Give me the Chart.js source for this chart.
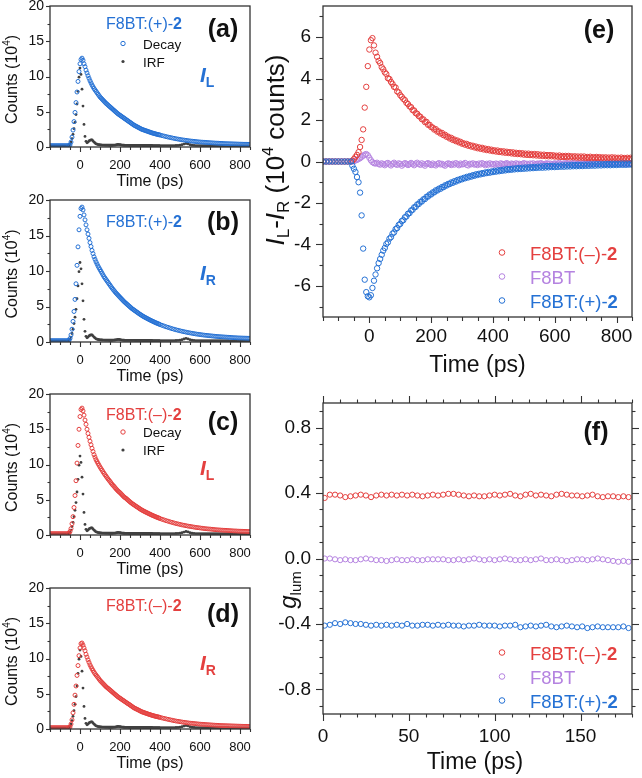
<!DOCTYPE html>
<html><head><meta charset="utf-8">
<script src="https://cdn.jsdelivr.net/npm/chart.js@4.4.0/dist/chart.umd.min.js"></script>
<style>
html,body{margin:0;padding:0;background:#fff;}
body{width:642px;height:778px;position:relative;overflow:hidden;}
canvas{position:absolute;}
</style></head><body>
<script>
// ---------- DATA ----------
// time axis (ps) for panels (a)-(d)
const T = [-150,-140,-130,-120,-110,-100,-90,-80,-70,-60,
-55,-50,-45,-40,-35,-30,-25,-20,-15,-10,
-5,0,5,10,15,20,25,30,35,40,
45,50,55,60,65,70,75,80,85,90,
95,100,105,110,115,120,125,130,135,140,
145,150,155,160,165,170,175,180,185,190,
195,200,205,210,215,220,225,230,235,240,
245,250,255,260,265,270,275,280,285,290,
295,300,305,310,315,320,325,330,335,340,
345,350,355,360,365,370,375,380,385,390,
395,400,410,420,430,440,450,460,470,480,
490,500,510,520,530,540,550,560,570,580,
590,600,610,620,630,640,650,660,670,680,
690,700,710,720,730,740,750,760,770,780,
790,800,810,820,830,840,850];
// (a) F8BT:(+)-2, I_L  (10^4 counts)
const A_IL_PLUS = [0.2,0.2,0.2,0.2,0.2,0.2,0.2,0.2,0.2,0.2,
0.2,0.3,0.7,1.4,2.4,3.6,4.9,6.3,7.8,9.3,
10.7,11.8,12.4,12.6,12.3,11.8,11.4,10.9,10.5,10.1,
9.75,9.4,9.1,8.8,8.55,8.3,8.1,7.9,7.7,7.5,
7.3,7.1,6.95,6.8,6.65,6.5,6.35,6.2,6.08,5.95,
5.82,5.7,5.57,5.45,5.32,5.2,5.07,4.95,4.82,4.7,
4.6,4.5,4.4,4.3,4.2,4.1,4.0,3.9,3.8,3.7,
3.6,3.5,3.4,3.3,3.2,3.1,3.02,2.95,2.87,2.8,
2.72,2.65,2.57,2.5,2.45,2.4,2.35,2.3,2.25,2.2,
2.15,2.1,2.05,2.0,1.96,1.92,1.88,1.84,1.8,1.77,
1.73,1.7,1.62,1.55,1.48,1.41,1.35,1.29,1.23,1.17,
1.12,1.07,1.02,0.98,0.94,0.9,0.86,0.83,0.8,0.77,
0.74,0.71,0.69,0.67,0.65,0.63,0.61,0.59,0.57,0.55,
0.54,0.52,0.51,0.49,0.48,0.47,0.46,0.45,0.44,0.43,
0.42,0.41,0.4,0.39,0.39,0.38,0.37];
// (b) F8BT:(+)-2, I_R
const B_IR_PLUS = [0.2,0.2,0.2,0.2,0.2,0.2,0.2,0.2,0.2,0.2,
0.25,0.5,1.0,1.8,2.9,4.3,6.0,8.2,10.8,13.4,
15.8,17.7,18.8,19.0,18.6,17.9,17.2,16.5,15.8,15.2,
14.6,14.0,13.45,12.9,12.45,12.0,11.65,11.3,11.0,10.7,
10.45,10.2,9.95,9.7,9.45,9.2,9.0,8.8,8.6,8.4,
8.2,8.0,7.8,7.6,7.42,7.25,7.07,6.9,6.75,6.6,
6.45,6.3,6.15,6.0,5.85,5.7,5.57,5.45,5.32,5.2,
5.07,4.95,4.82,4.7,4.6,4.5,4.4,4.3,4.2,4.1,
4.0,3.9,3.81,3.72,3.63,3.55,3.47,3.4,3.32,3.25,
3.17,3.1,3.03,2.96,2.9,2.83,2.76,2.7,2.64,2.58,
2.52,2.46,2.35,2.25,2.15,2.06,1.97,1.88,1.8,1.72,
1.65,1.58,1.51,1.45,1.39,1.33,1.28,1.23,1.18,1.13,
1.09,1.05,1.01,0.97,0.94,0.91,0.88,0.85,0.82,0.79,
0.77,0.75,0.73,0.71,0.69,0.67,0.65,0.63,0.61,0.6,
0.58,0.57,0.56,0.55,0.54,0.53,0.52];
// (c) F8BT:(–)-2, I_L
const C_IL_MINUS = [0.2,0.2,0.2,0.2,0.2,0.2,0.2,0.2,0.2,0.2,
0.25,0.5,0.9,1.6,2.6,3.9,5.6,7.7,10.2,12.7,
15.0,16.8,17.8,18.0,17.6,17.0,16.3,15.7,15.0,14.4,
13.85,13.3,12.8,12.3,11.85,11.4,11.05,10.7,10.42,10.15,
9.9,9.65,9.42,9.2,8.97,8.75,8.55,8.35,8.15,7.95,
7.77,7.6,7.4,7.2,7.05,6.9,6.72,6.55,6.4,6.25,
6.12,6.0,5.85,5.7,5.55,5.4,5.3,5.2,5.07,4.95,
4.82,4.7,4.58,4.47,4.37,4.28,4.18,4.08,3.99,3.9,
3.8,3.7,3.61,3.53,3.45,3.37,3.3,3.23,3.16,3.09,
3.02,2.95,2.88,2.81,2.75,2.69,2.63,2.57,2.51,2.45,
2.4,2.34,2.23,2.14,2.04,1.96,1.87,1.79,1.71,1.63,
1.57,1.5,1.43,1.38,1.32,1.26,1.22,1.17,1.12,1.07,
1.04,1.0,0.96,0.92,0.89,0.86,0.84,0.81,0.78,0.75,
0.73,0.71,0.69,0.67,0.66,0.64,0.62,0.6,0.58,0.57,
0.55,0.54,0.53,0.52,0.51,0.5,0.49];
// (d) F8BT:(–)-2, I_R
const D_IR_MINUS = [0.2,0.2,0.2,0.2,0.2,0.2,0.2,0.2,0.2,0.2,
0.2,0.3,0.7,1.3,2.3,3.5,4.8,6.1,7.6,9.0,
10.4,11.5,12.1,12.2,11.9,11.5,11.1,10.6,10.2,9.8,
9.45,9.1,8.82,8.55,8.3,8.05,7.85,7.65,7.47,7.3,
7.1,6.9,6.75,6.6,6.45,6.3,6.15,6.0,5.88,5.77,
5.65,5.53,5.41,5.29,5.16,5.04,4.92,4.8,4.68,4.56,
4.46,4.37,4.27,4.17,4.07,3.98,3.88,3.78,3.68,3.59,
3.5,3.4,3.3,3.2,3.1,3.0,2.93,2.86,2.79,2.72,
2.65,2.57,2.5,2.43,2.38,2.33,2.28,2.23,2.18,2.13,
2.08,2.04,1.99,1.94,1.9,1.86,1.82,1.78,1.75,1.72,
1.68,1.65,1.57,1.5,1.44,1.37,1.31,1.25,1.19,1.13,
1.09,1.04,0.99,0.95,0.91,0.87,0.83,0.81,0.78,0.75,
0.72,0.69,0.67,0.65,0.63,0.61,0.59,0.57,0.55,0.53,
0.52,0.5,0.49,0.48,0.47,0.46,0.45,0.44,0.43,0.42,
0.41,0.4,0.39,0.38,0.38,0.37,0.36];
// instrument response function (same in all four panels)
const IRF = [0.15,0.15,0.15,0.15,0.15,0.15,0.15,0.15,0.15,0.15,
0.2,0.4,0.7,1.2,1.8,2.6,3.5,4.6,6.1,7.9,
9.9,11.2,10.3,8.2,5.8,3.2,1.5,0.8,0.6,0.7,
0.85,0.95,1.0,1.0,0.85,0.7,0.57,0.45,0.4,0.35,
0.32,0.3,0.29,0.28,0.27,0.27,0.26,0.26,0.26,0.26,
0.25,0.25,0.25,0.25,0.26,0.27,0.28,0.3,0.33,0.36,
0.35,0.33,0.3,0.27,0.26,0.25,0.24,0.24,0.24,0.24,
0.23,0.23,0.23,0.23,0.23,0.23,0.22,0.22,0.22,0.22,
0.22,0.22,0.22,0.22,0.21,0.21,0.21,0.21,0.21,0.21,
0.21,0.21,0.21,0.21,0.2,0.2,0.2,0.2,0.2,0.2,
0.2,0.2,0.2,0.2,0.2,0.2,0.2,0.2,0.2,0.21,
0.23,0.26,0.32,0.42,0.5,0.43,0.32,0.25,0.22,0.2,
0.2,0.2,0.19,0.19,0.19,0.19,0.19,0.18,0.18,0.18,
0.18,0.18,0.18,0.18,0.18,0.18,0.17,0.17,0.17,0.17,
0.17,0.17,0.17,0.17,0.17,0.17,0.17];

// (e) time axis and I_L - I_R (10^4 counts)
const TE = [-150,-140,-130,-120,-110,-100,-90,-80,-70,-60,
-55,-50,-45,-40,-35,-30,-25,-20,-15,-10,
-5,0,5,10,15,20,25,30,35,40,
45,50,55,60,65,70,75,80,85,90,
95,100,105,110,115,120,125,130,135,140,
145,150,155,160,165,170,175,180,185,190,
195,200,205,210,215,220,225,230,235,240,
245,250,255,260,265,270,275,280,285,290,
295,300,305,310,315,320,325,330,335,340,
345,350,355,360,365,370,375,380,385,390,
395,400,405,410,415,420,425,430,435,440,
445,450,455,460,465,470,475,480,485,490,
495,500,505,510,515,520,525,530,535,540,
545,550,555,560,565,570,575,580,585,590,
595,600,605,610,615,620,625,630,635,640,
645,650,655,660,665,670,675,680,685,690,
695,700,705,710,715,720,725,730,735,740,
745,750,755,760,765,770,775,780,785,790,
795,800,805,810,815,820,825,830,835,840,
845,850];
const E_MINUS = [0,0,0,0,0,0,0,0,0,0,
0.03,0.12,0.22,0.32,0.45,0.7,1.04,1.55,2.6,3.6,
4.6,5.4,5.85,5.95,5.6,5.25,5.05,4.85,4.75,4.55,
4.45,4.3,4.22,4.02,3.98,3.84,3.74,3.6,3.57,3.38,
3.33,3.2,3.12,3.02,2.96,2.83,2.77,2.66,2.62,2.48,
2.46,2.33,2.3,2.19,2.16,2.04,2.03,1.9,1.91,1.77,
1.77,1.66,1.64,1.54,1.56,1.44,1.45,1.35,1.38,1.27,
1.29,1.19,1.2,1.11,1.14,1.04,1.06,0.98,1.01,0.92,
0.95,0.86,0.88,0.81,0.85,0.76,0.79,0.72,0.76,0.68,
0.72,0.64,0.68,0.61,0.66,0.58,0.62,0.55,0.6,0.53,
0.57,0.5,0.54,0.48,0.53,0.46,0.5,0.44,0.49,0.42,
0.47,0.41,0.45,0.39,0.44,0.37,0.42,0.36,0.41,0.35,
0.4,0.33,0.38,0.32,0.38,0.31,0.36,0.3,0.36,0.29,
0.35,0.28,0.33,0.27,0.33,0.26,0.31,0.25,0.31,0.25,
0.3,0.24,0.28,0.23,0.29,0.22,0.27,0.22,0.27,0.21,
0.27,0.2,0.25,0.2,0.25,0.19,0.24,0.18,0.24,0.18,
0.24,0.17,0.22,0.17,0.23,0.16,0.21,0.16,0.22,0.16,
0.21,0.15,0.2,0.15,0.2,0.14,0.19,0.14,0.2,0.14,
0.19,0.13,0.18,0.13,0.19,0.13,0.17,0.12,0.18,0.12,
0.18,0.12];
const E_NEAT = [0,0,0,0,0,0,0,0,0,0,
0,0.02,0.05,0.08,0.12,0.16,0.22,0.28,0.33,0.36,
0.3,0.18,0.06,-0.03,-0.08,-0.1,-0.06,-0.12,-0.15,-0.09,
-0.13,-0.18,-0.1,-0.07,-0.14,-0.19,-0.11,-0.06,-0.13,-0.16,
-0.09,-0.12,-0.2,-0.14,-0.08,-0.11,-0.17,-0.13,-0.07,-0.12,
-0.18,-0.1,-0.06,-0.12,-0.16,-0.09,-0.14,-0.2,-0.11,-0.08,
-0.13,-0.17,-0.1,-0.15,-0.19,-0.12,-0.08,-0.14,-0.11,-0.16,
-0.2,-0.13,-0.09,-0.12,-0.17,-0.11,-0.15,-0.08,-0.13,-0.18,
-0.1,-0.14,-0.12,-0.07,-0.16,-0.19,-0.11,-0.13,-0.09,-0.15,
-0.12,-0.17,-0.1,-0.14,-0.08,-0.13,-0.18,-0.11,-0.15,-0.09,
-0.14,-0.12,-0.16,-0.1,-0.13,-0.18,-0.09,-0.12,-0.15,-0.11,
-0.08,-0.14,-0.17,-0.1,-0.12,-0.15,-0.09,-0.13,-0.11,-0.16,
-0.12,-0.08,-0.14,-0.11,-0.17,-0.1,-0.13,-0.09,-0.15,-0.12,
-0.1,-0.14,-0.08,-0.12,-0.15,-0.11,-0.09,-0.13,-0.1,-0.14,
-0.12,-0.09,-0.13,-0.1,-0.07,-0.12,-0.14,-0.09,-0.11,-0.08,
-0.12,-0.1,-0.13,-0.07,-0.1,-0.12,-0.09,-0.11,-0.14,-0.08,
-0.1,-0.12,-0.08,-0.11,-0.09,-0.13,-0.1,-0.07,-0.11,-0.09,
-0.12,-0.08,-0.1,-0.13,-0.09,-0.11,-0.07,-0.1,-0.12,-0.09,
-0.11,-0.08,-0.1,-0.12,-0.09,-0.11,-0.08,-0.1,-0.12,-0.09,
-0.1,-0.11];
const E_PLUS = [0,0,0,0,0,0,0,0,0,0,
-0.2,-0.35,-0.5,-0.75,-1.0,-1.5,-2.6,-4.2,-5.7,-6.3,
-6.5,-6.55,-6.45,-6.1,-5.75,-5.45,-5.15,-4.9,-4.7,-4.5,
-4.3,-4.17,-3.98,-3.9,-3.72,-3.65,-3.48,-3.42,-3.26,-3.21,
-3.06,-3.01,-2.87,-2.83,-2.69,-2.65,-2.52,-2.49,-2.36,-2.33,
-2.21,-2.19,-2.07,-2.05,-1.94,-1.93,-1.82,-1.81,-1.7,-1.69,
-1.59,-1.59,-1.49,-1.49,-1.39,-1.4,-1.31,-1.32,-1.23,-1.24,
-1.15,-1.16,-1.08,-1.09,-1.01,-1.03,-0.95,-0.97,-0.89,-0.91,
-0.84,-0.86,-0.79,-0.81,-0.74,-0.77,-0.7,-0.73,-0.66,-0.69,
-0.62,-0.65,-0.59,-0.62,-0.56,-0.59,-0.53,-0.56,-0.5,-0.54,
-0.48,-0.51,-0.45,-0.49,-0.43,-0.47,-0.41,-0.45,-0.39,-0.43,
-0.37,-0.41,-0.36,-0.4,-0.34,-0.38,-0.33,-0.37,-0.31,-0.36,
-0.3,-0.35,-0.29,-0.34,-0.28,-0.33,-0.27,-0.32,-0.26,-0.31,
-0.25,-0.3,-0.24,-0.3,-0.23,-0.29,-0.22,-0.28,-0.22,-0.27,
-0.21,-0.27,-0.2,-0.26,-0.2,-0.25,-0.19,-0.25,-0.18,-0.24,
-0.18,-0.24,-0.17,-0.23,-0.17,-0.23,-0.16,-0.22,-0.16,-0.22,
-0.15,-0.21,-0.15,-0.21,-0.14,-0.2,-0.14,-0.2,-0.13,-0.19,
-0.13,-0.19,-0.13,-0.18,-0.12,-0.18,-0.12,-0.18,-0.11,-0.17,
-0.11,-0.17,-0.11,-0.16,-0.1,-0.16,-0.1,-0.16,-0.1,-0.15,
-0.1,-0.15];

// (f) time axis and g_lum
const TF = [1,4,7,10,13,16,19,22,25,28,
31,34,37,40,43,46,49,52,55,58,
61,64,67,70,73,76,79,82,85,88,
91,94,97,100,103,106,109,112,115,118,
121,124,127,130,133,136,139,142,145,148,
151,154,157,160,163,166,169,172,175,178];
const G_MINUS = [0.37,0.39,0.39,0.385,0.375,0.38,0.385,0.39,0.385,0.375,
0.385,0.39,0.385,0.39,0.385,0.39,0.385,0.39,0.385,0.38,
0.385,0.39,0.385,0.39,0.395,0.395,0.39,0.385,0.38,0.385,
0.38,0.38,0.385,0.39,0.385,0.39,0.395,0.385,0.38,0.39,
0.395,0.385,0.39,0.385,0.38,0.39,0.395,0.39,0.385,0.385,
0.38,0.385,0.39,0.38,0.375,0.38,0.38,0.375,0.38,0.375];
const G_NEAT = [0.0,0.0,-0.005,-0.01,-0.005,-0.01,-0.01,-0.005,0.0,-0.005,
-0.01,-0.01,-0.015,-0.01,-0.005,-0.01,-0.01,-0.005,-0.01,-0.01,
-0.005,-0.005,-0.005,-0.005,-0.01,-0.01,-0.005,-0.01,-0.005,0.0,
-0.005,-0.01,-0.005,-0.01,-0.005,0.0,-0.005,-0.01,-0.01,-0.005,
-0.01,-0.005,0.0,-0.01,-0.01,-0.005,-0.01,-0.015,-0.01,-0.005,
-0.005,-0.01,-0.005,0.0,-0.005,-0.01,-0.015,-0.02,-0.015,-0.02];
const G_PLUS = [-0.41,-0.405,-0.395,-0.4,-0.39,-0.395,-0.4,-0.4,-0.405,-0.41,
-0.405,-0.41,-0.405,-0.41,-0.405,-0.41,-0.4,-0.41,-0.41,-0.405,
-0.405,-0.41,-0.405,-0.41,-0.405,-0.41,-0.41,-0.415,-0.41,-0.41,
-0.405,-0.41,-0.41,-0.41,-0.415,-0.41,-0.41,-0.405,-0.42,-0.415,
-0.41,-0.415,-0.41,-0.405,-0.415,-0.42,-0.415,-0.41,-0.415,-0.42,
-0.415,-0.425,-0.42,-0.415,-0.42,-0.42,-0.42,-0.42,-0.415,-0.425];

// tick labels
const COUNT_TICKS = [0,5,10,15,20];
const TIME_TICKS = [0,200,400,600,800];
const DIFF_TICKS = [-6,-4,-2,0,2,4,6];
const G_TICKS = [-0.8,-0.4,0,0.4,0.8];
const TIMEF_TICKS = [0,50,100,150];

// ---------- STYLE / HELPERS ----------
const F = "'Liberation Sans', Arial, Helvetica, sans-serif";
const fnt = (s, st) => (st ? st + ' ' : '') + s + 'px ' + F;
const BLUE = '#2571d4', RED = '#e4403f', PURPLE = '#b583e0', IRFC = '#404040', INK = '#111';
Chart.defaults.font.family = F;

function rich(ctx, x, y, parts, align, rot) {
  ctx.save(); ctx.translate(x, y); if (rot) ctx.rotate(rot);
  ctx.textBaseline = 'alphabetic'; ctx.textAlign = 'left';
  let w = 0;
  parts.forEach(p => { ctx.font = p.f; p.w = ctx.measureText(p.t).width; w += p.w; });
  let cx = align === 'center' ? -w / 2 : (align === 'right' ? -w : 0);
  parts.forEach(p => { ctx.font = p.f; ctx.fillStyle = p.c || INK; ctx.fillText(p.t, cx, p.dy || 0); cx += p.w; });
  ctx.restore();
}
function ring(ctx, x, y, r, c, lw) { ctx.beginPath(); ctx.arc(x, y, r, 0, Math.PI * 2); ctx.strokeStyle = c; ctx.lineWidth = lw || 1; ctx.stroke(); }
function dot(ctx, x, y, r, c) { ctx.beginPath(); ctx.arc(x, y, r, 0, Math.PI * 2); ctx.fillStyle = c; ctx.fill(); }
function seq(a, b, s) { const o = []; for (let v = a; v <= b + 1e-9; v += s) o.push(Math.round(v * 1000) / 1000); return o; }
const pts = (xs, ys) => xs.map((x, i) => ({ x: x, y: ys[i] }));
function zeroPad(s) { s.paddingTop = 0; s.paddingBottom = 0; s.paddingLeft = 0; s.paddingRight = 0; }

function build(cfg) {
  const c = document.createElement('canvas');
  c.width = cfg.w; c.height = cfg.h;
  c.style.left = cfg.cx + 'px'; c.style.top = cfg.cy + 'px';
  document.body.appendChild(c);
  const deco = {
    id: 'deco',
    afterDraw(chart) {
      const ctx = chart.ctx, a = chart.chartArea, xs = chart.scales.x, ys = chart.scales.y;
      ctx.save();
      ctx.strokeStyle = '#333'; ctx.lineWidth = 1.1;
      cfg.marks.forEach(m => {
        m.vals.forEach(v => {
          ctx.beginPath();
          if (m.side === 'left' || m.side === 'right') {
            const p = Math.round(ys.getPixelForValue(v)) + 0.5;
            const x0 = m.side === 'left' ? a.left : a.right;
            ctx.moveTo(x0, p); ctx.lineTo(m.side === 'left' ? x0 - m.len : x0 + m.len, p);
          } else {
            const p = Math.round(xs.getPixelForValue(v)) + 0.5;
            const y0 = m.side === 'bottom' ? a.bottom : a.top;
            ctx.moveTo(p, y0); ctx.lineTo(p, m.side === 'bottom' ? y0 + m.len : y0 - m.len);
          }
          ctx.stroke();
        });
      });
      ctx.lineWidth = 1.3; ctx.strokeStyle = '#333';
      ctx.strokeRect(a.left, a.top, a.right - a.left, a.bottom - a.top);
      ctx.translate(-cfg.cx, -cfg.cy);
      const A = { left: a.left + cfg.cx, right: a.right + cfg.cx, top: a.top + cfg.cy, bottom: a.bottom + cfg.cy };
      cfg.draw(ctx, A);
      ctx.restore();
    }
  };
  return new Chart(c, {
    type: 'scatter',
    data: { datasets: cfg.datasets },
    options: {
      responsive: false, animation: false, devicePixelRatio: 1,
      layout: { padding: { top: cfg.padTop, right: cfg.padRight, left: 0, bottom: 0 }, autoPadding: false },
      plugins: { legend: { display: false }, tooltip: { enabled: false } },
      scales: {
        x: {
          type: 'linear', min: cfg.xmin, max: cfg.xmax,
          grid: { display: false, drawTicks: false }, border: { display: false },
          afterBuildTicks: s => { s.ticks = cfg.xTicks.map(v => ({ value: v })); },
          afterFit: s => { s.height = cfg.xH; zeroPad(s); },
          ticks: { font: { family: F, size: cfg.xFont }, color: INK, padding: cfg.xPad, maxRotation: 0, autoSkip: false,
                   callback: v => String(v) }
        },
        y: {
          type: 'linear', min: cfg.ymin, max: cfg.ymax,
          grid: { display: false, drawTicks: false }, border: { display: false },
          afterBuildTicks: s => { s.ticks = cfg.yTicks.map(v => ({ value: v })); },
          afterFit: s => { s.width = cfg.yW; zeroPad(s); },
          ticks: { font: { family: F, size: cfg.yFont }, color: INK, padding: cfg.yPad, autoSkip: false,
                   callback: cfg.yFmt || (v => String(v)) }
        }
      }
    },
    plugins: [deco]
  });
}

function decaySet(arr, color) {
  return { data: pts(T, arr), showLine: false, pointStyle: 'circle', pointRadius: 2, pointBorderWidth: 1,
           borderColor: color, backgroundColor: 'rgba(0,0,0,0)', pointBorderColor: color, pointBackgroundColor: 'rgba(0,0,0,0)' };
}
function irfSet() {
  return { data: pts(T, IRF), showLine: false, pointStyle: 'circle', pointRadius: 1.4, pointBorderWidth: 0,
           borderColor: IRFC, backgroundColor: IRFC, pointBackgroundColor: IRFC };
}
function ringSet(xs, arr, color, r) {
  return { data: pts(xs, arr), showLine: false, pointStyle: 'circle', pointRadius: r, pointBorderWidth: 1,
           borderColor: color, backgroundColor: 'rgba(0,0,0,0)', pointBorderColor: color, pointBackgroundColor: 'rgba(0,0,0,0)' };
}

const countMarks = [
  { side: 'left', vals: COUNT_TICKS, len: 4 },
  { side: 'left', vals: [2.5, 7.5, 12.5, 17.5], len: 2.5 },
  { side: 'bottom', vals: TIME_TICKS, len: 5 },
  { side: 'bottom', vals: seq(-150, 850, 50).filter(v => TIME_TICKS.indexOf(v) < 0), len: 3 }
];

function leftPanel(cy, h, padTop, xH, arr, color, sign, sub, letter, pos) {
  build({
    cx: 0, cy: cy, w: 262, h: h, padTop: padTop, padRight: 12, yW: 50, xH: xH,
    xmin: -150, xmax: 850, ymin: 0, ymax: 20, xTicks: TIME_TICKS, yTicks: COUNT_TICKS,
    xFont: 13, yFont: 14, xPad: 11, yPad: 6,
    datasets: [decaySet(arr, color), irfSet()],
    marks: countMarks,
    draw(ctx, A) {
      rich(ctx, 106, A.top + pos.title, [{ t: 'F8BT:(' + sign + ')-', f: fnt(16), c: color }, { t: '2', f: fnt(16, 'bold'), c: color }]);
      rich(ctx, 223, A.top + pos.letter, [{ t: '(' + letter + ')', f: fnt(25, 'bold'), c: INK }], 'center');
      if (pos.legend) {
        ring(ctx, 123, A.top + pos.legend, 2.2, color, 1);
        rich(ctx, 143, A.top + pos.legend + 5, [{ t: 'Decay', f: fnt(13.5), c: INK }]);
        dot(ctx, 123, A.top + pos.legend + 18, 1.6, IRFC);
        rich(ctx, 143, A.top + pos.legend + 23, [{ t: 'IRF', f: fnt(13.5), c: INK }]);
      }
      rich(ctx, 200, A.top + pos.I, [{ t: 'I', f: fnt(21, 'italic bold'), c: color }, { t: sub, f: fnt(14, 'bold'), c: color, dy: 5 }]);
      rich(ctx, 17, (A.top + A.bottom) / 2 + 3, [{ t: 'Counts (10', f: fnt(16) }, { t: '4', f: fnt(10), dy: -7 }, { t: ')', f: fnt(16) }], 'center', -Math.PI / 2);
      rich(ctx, (A.left + A.right) / 2, A.bottom + 39, [{ t: 'Time (ps)', f: fnt(16) }], 'center');
    }
  });
}

leftPanel(0, 192, 6, 45, A_IL_PLUS, BLUE, '+', 'L', 'a', { title: 23, letter: 31, legend: 37.5, I: 76 });
leftPanel(190, 194, 10, 42, B_IR_PLUS, BLUE, '+', 'R', 'b', { title: 27, letter: 30, I: 80 });
leftPanel(384, 196, 10, 45, C_IL_MINUS, RED, '\u2013', 'L', 'c', { title: 26, letter: 36, legend: 38, I: 81 });
leftPanel(578, 200, 10, 49, D_IR_MINUS, RED, '\u2013', 'R', 'd', { title: 23, letter: 34, I: 82 });

function legend3(ctx, y0, y1, y2) {
  ring(ctx, 502, y0 - 7.5, 2.8, RED, 1); ring(ctx, 502, y1 - 7, 2.8, PURPLE, 1); ring(ctx, 502, y2 - 7.5, 2.8, BLUE, 1);
  rich(ctx, 530, y0, [{ t: 'F8BT:(\u2013)-', f: fnt(18.5), c: RED }, { t: '2', f: fnt(18.5, 'bold'), c: RED }]);
  rich(ctx, 530, y1, [{ t: 'F8BT', f: fnt(18.5), c: PURPLE }]);
  rich(ctx, 530, y2, [{ t: 'F8BT:(+)-', f: fnt(18.5), c: BLUE }, { t: '2', f: fnt(18.5, 'bold'), c: BLUE }]);
}

// (e)
build({
  cx: 262, cy: 0, w: 380, h: 395, padTop: 6, padRight: 10, yW: 61, xH: 78,
  xmin: -150, xmax: 850, ymin: -7.5, ymax: 7.5, xTicks: TIME_TICKS, yTicks: DIFF_TICKS,
  xFont: 19, yFont: 19, xPad: 8, yPad: 12,
  datasets: [ringSet(TE, E_PLUS, BLUE, 2.7), ringSet(TE, E_MINUS, RED, 2.7), ringSet(TE, E_NEAT, PURPLE, 2.7)],
  marks: [
    { side: 'left', vals: DIFF_TICKS, len: 7 },
    { side: 'left', vals: [-7, -5, -3, -1, 1, 3, 5, 7], len: 3.5 },
    { side: 'bottom', vals: TIME_TICKS, len: 6 },
    { side: 'bottom', vals: seq(-150, 850, 50).filter(v => TIME_TICKS.indexOf(v) < 0), len: 4 }
  ],
  draw(ctx, A) {
    rich(ctx, 599, 38, [{ t: '(e)', f: fnt(25, 'bold') }], 'center');
    legend3(ctx, 260, 283.5, 308);
    rich(ctx, (A.left + A.right) / 2, 372, [{ t: 'Time (ps)', f: fnt(23) }], 'center');
    rich(ctx, 284, 150, [
      { t: 'I', f: fnt(26, 'italic') }, { t: 'L', f: fnt(17), dy: 5 }, { t: '-', f: fnt(26) },
      { t: 'I', f: fnt(26, 'italic') }, { t: 'R', f: fnt(17), dy: 5 }, { t: ' (10', f: fnt(26) },
      { t: '4', f: fnt(16), dy: -11 }, { t: ' counts)', f: fnt(26) }], 'center', -Math.PI / 2);
  }
});

// (f)
build({
  cx: 262, cy: 395, w: 380, h: 383, padTop: 8, padRight: 10, yW: 61, xH: 64,
  xmin: 0, xmax: 180, ymin: -0.95, ymax: 0.95, xTicks: TIMEF_TICKS, yTicks: G_TICKS,
  xFont: 19, yFont: 19, xPad: 11, yPad: 12, yFmt: v => Number(v).toFixed(1),
  datasets: [ringSet(TF, G_MINUS, RED, 2.6), ringSet(TF, G_NEAT, PURPLE, 2.6), ringSet(TF, G_PLUS, BLUE, 2.6)],
  marks: [
    { side: 'left', vals: G_TICKS, len: 7 },
    { side: 'left', vals: seq(-0.9, 0.9, 0.1).filter(v => Math.round(Math.abs(v * 10)) % 4 !== 0), len: 3.5 },
    { side: 'right', vals: G_TICKS, len: 7 },
    { side: 'right', vals: seq(-0.9, 0.9, 0.1).filter(v => Math.round(Math.abs(v * 10)) % 4 !== 0), len: 3.5 },
    { side: 'bottom', vals: TIMEF_TICKS, len: 7 },
    { side: 'bottom', vals: seq(0, 180, 10).filter(v => v % 50 !== 0), len: 3.5 },
    { side: 'top', vals: TIMEF_TICKS, len: 7 },
    { side: 'top', vals: seq(0, 180, 10).filter(v => v % 50 !== 0), len: 3.5 }
  ],
  draw(ctx, A) {
    rich(ctx, 596, 440, [{ t: '(f)', f: fnt(25, 'bold') }], 'center');
    legend3(ctx, 660, 683.5, 708);
    rich(ctx, 475, 769, [{ t: 'Time (ps)', f: fnt(23) }], 'center');
    rich(ctx, 296, 590, [{ t: 'g', f: fnt(24, 'italic') }, { t: 'lum', f: fnt(15), dy: 5 }], 'center', -Math.PI / 2);
  }
});
</script>
</body></html>
